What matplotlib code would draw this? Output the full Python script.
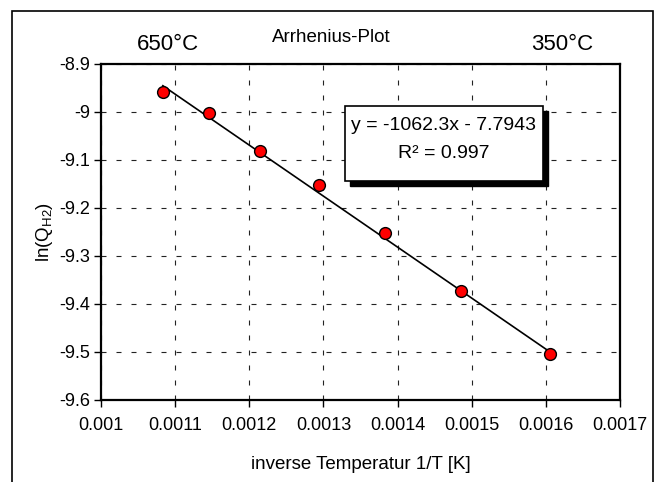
import matplotlib
matplotlib.use("Agg")
import matplotlib.pyplot as plt
from matplotlib.patches import Rectangle
import numpy as np

plt.rcParams['font.family'] = ['Liberation Sans', 'DejaVu Sans']

# temperatures 650..350 °C, as 1/T
temps_c = [650, 600, 550, 500, 450, 400, 350]
inv_T = [1.0 / (t + 273) for t in temps_c]
ln_q = [-8.958, -9.002, -9.081, -9.152, -9.252, -9.373, -9.504]

slope = -1062.3
intercept = -7.7943
r2 = 0.997

xticks = [0.001, 0.0011, 0.0012, 0.0013, 0.0014, 0.0015, 0.0016, 0.0017]
xtick_labels = ["0.001", "0.0011", "0.0012", "0.0013", "0.0014", "0.0015", "0.0016", "0.0017"]
yticks = [-8.9, -9.0, -9.1, -9.2, -9.3, -9.4, -9.5, -9.6]
ytick_labels = ["-8.9", "-9", "-9.1", "-9.2", "-9.3", "-9.4", "-9.5", "-9.6"]

W, H = 655, 482
fig = plt.figure(figsize=(W / 100, H / 100), dpi=100)
ax = fig.add_axes([101 / W, 1 - 400 / H, 519 / W, 336 / H])

# trendline
xl = np.array([inv_T[0], inv_T[-1]])
ax.plot(xl, slope * xl + intercept, color='black', lw=1.2, zorder=3)
ax.plot(inv_T, ln_q, 'o', color='red', mec='black', mew=1.0, ms=8.5, zorder=4)

ax.set_xlim(0.001, 0.0017)
ax.set_ylim(-9.6, -8.9)
ax.set_xticks(xticks)
ax.set_xticklabels(xtick_labels)
ax.set_yticks(yticks)
ax.set_yticklabels(ytick_labels)
ax.tick_params(direction='out', length=5, width=1, labelsize=13, pad=3)
ax.tick_params(axis='x', pad=7)
ax.grid(True, color='#222222', linestyle=(0, (4.5, 9)), lw=0.8)
for s in ax.spines.values():
    s.set_linewidth(1.6)

ax.set_xlabel("inverse Temperatur 1/T [K]", fontsize=13.5, labelpad=16)
ax.set_ylabel(r"$\mathregular{ln(Q_{H2})}$", fontsize=13.5, labelpad=3)

fig.text(331 / W, 1 - 38 / H, "Arrhenius-Plot", ha='center', va='center', fontsize=13.5)
fig.text(168 / W, 1 - 45 / H, "650°C", ha='center', va='center', fontsize=16)
fig.text(562 / W, 1 - 45 / H, "350°C", ha='center', va='center', fontsize=16)

# equation box with shadow
bx0, by0, bx1, by1 = 345, 106, 543, 181
fig.patches.append(Rectangle(((bx0 + 5) / W, 1 - (by1 + 5) / H), (bx1 - bx0) / W, (by1 - by0) / H,
                             transform=fig.transFigure, facecolor='black', edgecolor='black', zorder=5))
fig.patches.append(Rectangle((bx0 / W, 1 - by1 / H), (bx1 - bx0) / W, (by1 - by0) / H,
                             transform=fig.transFigure, facecolor='white', edgecolor='black', lw=1.2, zorder=6))
fig.text((bx0 + bx1) / 2 / W, 1 - 126 / H, "y = -1062.3x - 7.7943", ha='center', va='center',
         fontsize=14, zorder=7)
fig.text((bx0 + bx1) / 2 / W, 1 - 154 / H, "R² = %.3f" % r2, ha='center', va='center',
         fontsize=14, zorder=7)

# outer chart frame
fig.patches.append(Rectangle((12 / W, -0.1), (653 - 12) / W, 1.1 - 11 / H,
                             transform=fig.transFigure, fill=False, edgecolor='black', lw=1.2))

fig.savefig("out.png", dpi=100)
